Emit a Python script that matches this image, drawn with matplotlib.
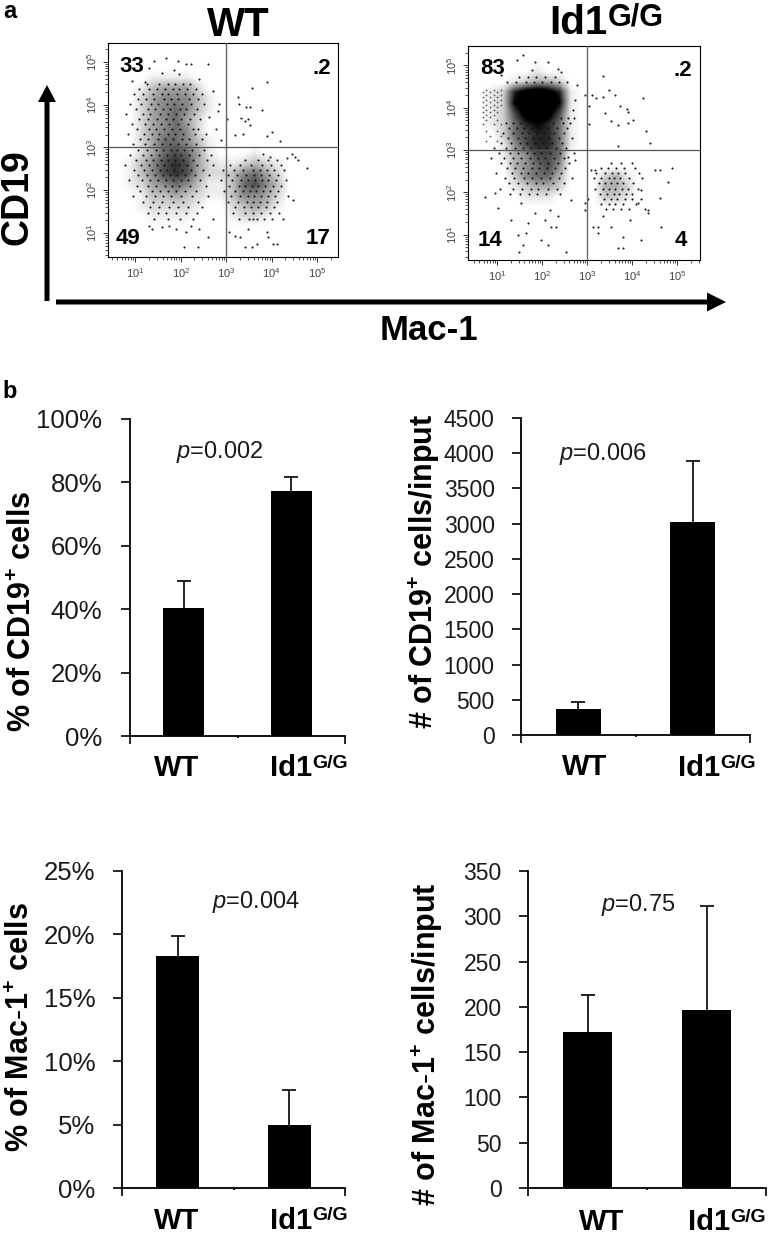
import matplotlib
matplotlib.use("Agg")
import matplotlib.pyplot as plt
from matplotlib.colors import PowerNorm
import numpy as np

W, H = 769, 1234
plt.rcParams["font.family"] = ["Liberation Sans", "DejaVu Sans"]
plt.rcParams["mathtext.fontset"] = "custom"
plt.rcParams["mathtext.rm"] = "Liberation Sans"
plt.rcParams["mathtext.it"] = "Liberation Sans:italic"
plt.rcParams["mathtext.bf"] = "Liberation Sans:bold"

# flow panels: estimated darkness of the cloud per 0.25 decade cell (top row = highest CD19)
wt_density = [
    [0]*20,
    [0]*20,
    [0]*20,
    [0,0,0,1,1,1,1,0,0,0,0,0,0,0,0,0,0,0,0,0],
    [0,0,1,3,4,4,4,2,0,0,0,0,0,0,0,0,0,0,0,0],
    [0,0,2,4,5,5,5,3,1,0,0,0,0,0,0,0,0,0,0,0],
    [0,0,2,4,5,6,5,3,1,0,0,0,0,0,0,0,0,0,0,0],
    [0,0,2,4,5,6,4,2,0,0,0,0,0,0,0,0,0,0,0,0],
    [0,0,2,4,5,6,5,2,0,0,0,0,0,0,0,0,0,0,0,0],
    [0,0,2,4,6,6,5,3,1,0,0,0,0,0,0,0,0,0,0,0],
    [0,0,2,4,6,7,6,4,1,0,0,0,1,0,0,0,0,0,0,0],
    [0,1,3,5,7,8,7,4,2,1,1,2,3,2,1,0,0,0,0,0],
    [0,1,3,5,7,8,7,4,2,2,3,5,6,4,2,0,0,0,0,0],
    [0,1,2,4,5,6,5,3,1,1,3,6,7,5,3,0,0,0,0,0],
    [0,0,1,3,3,4,3,2,1,1,3,5,5,4,2,0,0,0,0,0],
    [0,0,1,2,2,2,2,1,0,0,2,3,4,3,1,0,0,0,0,0],
    [0,0,0,1,1,1,1,0,0,0,1,2,2,1,0,0,0,0,0,0],
    [0]*20,
    [0]*20,
    [0]*20,
]
id1_density = [
    [0]*20,
    [0]*20,
    [0,0,0,0,0,1,0,0,0,0,0,0,0,0,0,0,0,0,0,0],
    [0,0,0,1,2,3,3,2,0,0,0,0,0,0,0,0,0,0,0,0],
    [0,1,2,7,9,10,9,7,1,0,0,0,0,0,0,0,0,0,0,0],
    [0,1,2,8,10,10,10,8,1,0,0,0,0,0,0,0,0,0,0,0],
    [0,1,2,6,9,10,9,6,1,0,0,0,0,0,0,0,0,0,0,0],
    [0,1,2,5,7,8,7,5,1,0,0,0,0,0,0,0,0,0,0,0],
    [0,0,2,5,6,7,7,5,1,0,0,0,0,0,0,0,0,0,0,0],
    [0,0,1,4,6,7,7,5,1,0,0,0,0,0,0,0,0,0,0,0],
    [0,0,1,3,4,6,6,5,0,0,0,0,0,0,0,0,0,0,0,0],
    [0,0,0,3,4,5,6,4,0,0,0,0,0,0,0,0,0,0,0,0],
    [0,0,0,2,4,5,5,3,0,0,0,2,3,1,0,0,0,0,0,0],
    [0,0,0,1,2,3,3,2,0,0,0,3,3,2,0,0,0,0,0,0],
    [0,0,0,0,1,1,1,0,0,0,0,2,2,1,0,0,0,0,0,0],
    [0]*20,
    [0]*20,
    [0]*20,
    [0]*20,
    [0]*20,
]

# single events, log10 units
wt_x = [3.89,3.56,3.26,3.28,3.44,3.52,3.78,3.02,3.33,3.48,3.41,3.53,3.19,3.36,3.89,4.00,4.19,
        1.41,1.67,1.93,1.30,1.59,1.85,2.22,2.59,2.11,1.96,1.22,0.93,2.41,
        2.70,2.85,2.81,2.63,2.78,2.56,2.89,
        1.37,1.59,1.74,1.30,2.07,2.37,2.41,2.22,2.59,2.70,2.11,1.89,
        3.19,3.30,3.41,3.56,3.67,3.89,4.04,4.11,3.93,3.07,3.48,3.59,4.26,4.48,4.78,4.52,4.44,4.59,3.81,3.96,4.33]
wt_y = [4.53,4.38,4.17,4.02,3.95,3.95,3.88,3.67,3.69,3.67,3.62,3.52,3.28,3.32,3.26,3.36,3.15,
        5.02,5.08,5.03,4.86,4.75,4.82,4.94,4.95,4.94,4.71,4.52,4.55,4.59,
        4.32,4.02,3.86,3.71,3.44,3.32,3.17,
        1.09,1.13,1.17,1.17,0.67,0.67,1.09,1.17,0.90,1.32,1.02,1.09,
        0.94,0.90,0.67,0.67,0.75,1.02,0.75,0.75,0.90,1.02,1.09,1.32,1.32,1.78,2.52,2.78,2.85,2.71,2.85,2.78,2.75]
id1_x = [3.35,3.10,3.20,3.35,3.47,3.61,4.24,3.03,3.72,3.87,3.90,3.39,3.53,3.68,3.90,4.01,4.30,4.39,3.67,3.03,
         1.46,1.64,1.57,1.48,2.13,2.53,1.98,1.68,1.31,1.01,0.72,0.94,2.20,2.31,2.05,2.35,2.16,1.53,1.83,2.94,2.94,2.64,2.72,2.57,
         1.57,1.43,1.83,2.13,1.76,2.42,1.09,2.35,2.76,2.72,2.94,2.68,
         3.09,3.16,4.50,4.61,4.87,4.79,4.61,4.35,4.63,4.20,3.79,3.68,3.79,3.24,3.13,3.35,3.53,4.35,3.94,3.01,4.20,4.13,3.24]
id1_y = [4.75,4.30,4.22,4.26,4.43,4.31,4.24,4.04,4.04,3.98,3.91,3.88,3.69,3.59,3.63,3.71,3.45,3.17,3.09,3.61,
         0.99,1.03,0.76,0.60,0.76,0.60,0.87,1.27,1.35,1.62,1.90,1.98,1.19,1.19,1.35,1.43,1.58,1.74,1.50,1.74,1.58,1.82,2.76,2.84,
         5.24,5.13,5.09,5.09,4.89,4.85,4.77,4.91,4.54,4.18,4.30,3.94,
         2.53,2.53,2.53,2.53,2.58,2.25,1.86,1.58,1.19,0.87,0.95,0.68,0.68,1.19,1.19,1.43,1.19,1.50,1.35,1.85,2.05,1.74,1.03]

# dots estimated inside the clouds, one row per CD19 level: (log10 CD19, [log10 Mac-1, ...])
wt_rows = [
    (4.48, [1.25,1.52,1.71,1.88,2.05,2.21]),
    (4.36, [1.08,1.31,1.47,1.66,1.83,1.97,2.14,2.33]),
    (4.24, [0.97,1.18,1.39,1.58,1.72,1.91,2.09,2.27,2.46]),
    (4.12, [1.05,1.24,1.42,1.63,1.79,1.95,2.18,2.38]),
    (4.01, [0.88,1.13,1.35,1.51,1.69,1.86,2.03,2.22,2.51]),
    (3.89, [1.02,1.27,1.44,1.61,1.77,1.98,2.12,2.35]),
    (3.77, [0.79,1.16,1.33,1.55,1.73,1.89,2.07,2.29]),
    (3.66, [1.09,1.29,1.48,1.68,1.84,2.01,2.21,2.43]),
    (3.54, [0.93,1.21,1.38,1.57,1.75,1.93,2.15]),
    (3.42, [1.04,1.31,1.46,1.64,1.81,1.99,2.26,2.39]),
    (3.31, [0.85,1.19,1.36,1.53,1.71,1.87,2.06,2.31]),
    (3.19, [1.11,1.28,1.49,1.66,1.82,2.02,2.18,2.47]),
    (3.08, [0.96,1.22,1.41,1.59,1.76,1.94,2.11,2.34]),
    (2.94, [1.07,1.26,1.45,1.62,1.78,1.91,2.08,2.24,2.52]),
    (2.82, [0.89,1.17,1.34,1.52,1.69,1.85,2.00,2.19,2.41,2.66]),
    (2.70, [1.01,1.23,1.39,1.56,1.72,1.88,2.04,2.27,2.58,3.42,3.71,3.93,4.12]),
    (2.59, [0.78,1.12,1.30,1.47,1.63,1.80,1.96,2.13,2.36,2.72,3.08,3.31,3.55,3.78,3.99,4.21]),
    (2.47, [0.98,1.20,1.37,1.54,1.70,1.86,2.03,2.22,2.49,2.92,3.17,3.38,3.59,3.74,3.89,4.06,4.27]),
    (2.35, [1.06,1.25,1.43,1.60,1.77,1.92,2.10,2.31,2.63,3.03,3.24,3.44,3.61,3.77,3.95,4.14]),
    (2.23, [0.87,1.15,1.33,1.51,1.67,1.83,2.01,2.17,2.42,2.88,3.12,3.33,3.49,3.63,3.79,3.91,4.09,4.31]),
    (2.11, [1.03,1.29,1.46,1.65,1.81,1.97,2.20,2.55,3.06,3.28,3.42,3.57,3.70,3.85,4.02,4.20]),
    (1.99, [1.10,1.36,1.55,1.73,1.90,2.09,2.33,2.96,3.19,3.36,3.52,3.66,3.81,3.97,4.13]),
    (1.86, [0.94,1.24,1.44,1.62,1.79,2.00,2.25,2.60,3.10,3.30,3.47,3.62,3.76,3.92,4.08,4.35]),
    (1.73, [1.18,1.40,1.58,1.84,2.06,2.39,3.04,3.25,3.45,3.60,3.74,3.90,4.11]),
    (1.60, [1.32,1.53,1.75,1.95,2.16,2.47,3.20,3.39,3.55,3.71,3.88,4.05]),
    (1.47, [1.27,1.49,1.68,1.89,2.12,2.35,3.14,3.41,3.58,3.77,3.96,4.17]),
    (1.33, [1.42,1.71,1.98,2.28,3.29,3.50,3.68,3.83,4.00]),
]
id1_rows = [
    (4.72, [1.48,1.69,1.87,2.06,2.28]),
    (4.60, [1.22,1.41,1.63,1.82,2.00,2.19,2.38,2.54]),
    (3.75, [2.41,2.58,2.71]),
    (3.64, [1.19,1.34,1.52,1.70,1.88,2.06,2.23,2.45,2.62]),
    (3.52, [1.27,1.43,1.60,1.77,1.95,2.12,2.33,2.55]),
    (3.40, [1.12,1.36,1.54,1.71,1.89,2.03,2.26,2.48]),
    (3.28, [1.24,1.45,1.62,1.80,1.97,2.15,2.37,2.66]),
    (3.16, [1.08,1.31,1.50,1.67,1.84,2.01,2.21,2.44]),
    (3.05, [0.92,1.20,1.39,1.57,1.74,1.92,2.09,2.30,2.52]),
    (2.93, [1.03,1.28,1.47,1.65,1.81,1.98,2.17,2.39,2.71]),
    (2.81, [0.86,1.15,1.35,1.53,1.72,1.90,2.07,2.25,2.48]),
    (2.69, [1.09,1.29,1.44,1.61,1.79,1.95,2.13,2.34,2.60,3.52,3.74,4.00]),
    (2.57, [1.22,1.40,1.58,1.76,1.93,2.11,2.29,2.50,3.30,3.46,3.63,3.81,4.06]),
    (2.45, [0.98,1.33,1.52,1.69,1.86,2.04,2.22,2.42,3.20,3.39,3.55,3.68,3.84,4.15]),
    (2.33, [1.18,1.38,1.60,1.78,1.96,2.16,2.37,2.65,3.14,3.31,3.47,3.60,3.72,3.93,4.22]),
    (2.21, [1.26,1.46,1.66,1.85,2.02,2.24,2.47,3.25,3.40,3.53,3.65,3.78,4.02]),
    (2.09, [1.06,1.35,1.55,1.74,1.91,2.12,2.33,3.18,3.35,3.49,3.62,3.77,3.90,4.12]),
    (1.97, [1.29,1.50,1.70,1.88,2.08,2.40,3.28,3.44,3.58,3.70,3.85,4.00]),
    (1.84, [3.38,3.52,3.66,3.83,3.98,4.20]),
    (1.72, [3.31,3.48,3.61,3.79,4.07]),
    (1.60, [3.42,3.56,3.74,3.92,4.28]),
]
# striped low Mac-1 channels of the Id1 plot
id1_stripes = [
    (4.42, [0.76,0.92,1.08]),
    (4.38, [0.68,0.84,1.00]),
    (4.30, [0.76,0.92,1.08]),
    (4.26, [0.68,0.84,1.00]),
    (4.18, [0.76,0.92,1.08]),
    (4.14, [0.68,0.84,1.00]),
    (4.06, [0.76,0.92,1.08]),
    (4.02, [0.68,0.84,1.00]),
    (3.94, [0.76,0.92]),
    (3.90, [0.68,0.84,1.00]),
    (3.82, [0.76,0.92]),
    (3.78, [0.68,0.84]),
    (3.70, [0.76,1.00]),
    (3.62, [0.68,0.92,1.08]),
    (3.46, [0.76,1.00]),
    (3.34, [0.84,1.08]),
    (3.22, [0.76,1.00]),
]

wt_quadrants = ["33", ".2", "49", "17"]
id1_quadrants = ["83", ".2", "14", "4"]
decades = [1, 2, 3, 4, 5]

# bar panels
groups = ["WT", "Id1"]
pct_cd19 = [40.4, 77.3]
pct_cd19_err = [8.4, 4.4]
num_cd19 = [369, 3025]
num_cd19_err = [99, 861]
pct_mac1 = [18.3, 5.0]
pct_mac1_err = [1.6, 2.75]
num_mac1 = [171.7, 197]
num_mac1_err = [41.2, 114.4]
pct_ticks_cd19 = [0, 20, 40, 60, 80, 100]
ticks_num_cd19 = [0, 500, 1000, 1500, 2000, 2500, 3000, 3500, 4000, 4500]
pct_ticks_mac1 = [0, 5, 10, 15, 20, 25]
ticks_num_mac1 = [0, 50, 100, 150, 200, 250, 300, 350]


def px_axes(x0, y0, x1, y1):
    return fig.add_axes([x0/W, 1-y1/H, (x1-x0)/W, (y1-y0)/H])


def flow(box, xlim, ylim, density, xs, ys, rows, vmax, labels, label_pos):
    ax = px_axes(*box)
    ax.imshow(np.array(density), extent=(0.5, 5.5, 0.5, 5.5), cmap="gray_r",
              norm=PowerNorm(1.2, vmin=0, vmax=vmax),
              interpolation="bilinear", aspect="auto", zorder=1)
    ax.scatter(xs, ys, s=2.4, color="#222222", linewidths=0, zorder=2)
    for y, row in rows:
        ax.scatter(row, [y]*len(row), s=2.2, color="#111111", linewidths=0, zorder=2)
    ax.axvline(3, color="#666666", lw=1.0, zorder=3)
    ax.axhline(3, color="#555555", lw=0.9, zorder=3)
    ax.set_xlim(*xlim)
    ax.set_ylim(*ylim)
    minor = [np.log10(m)+d for d in [0, 1, 2, 3, 4, 5] for m in range(2, 10)]
    ax.set_xticks([m for m in minor if xlim[0] < m < xlim[1]], minor=True)
    ax.set_yticks([m for m in minor if ylim[0] < m < ylim[1]], minor=True)
    ax.set_xticks(decades)
    ax.set_yticks(decades)
    ax.set_xticklabels(["$10^{%d}$" % d for d in decades], fontsize=8, color="#444444")
    ax.set_yticklabels(["$10^{%d}$" % d for d in decades], fontsize=8, color="#444444", rotation=90, va="center")
    ax.tick_params(which="major", length=3.5, width=0.7, pad=3, color="#333333")
    ax.tick_params(which="minor", length=2, width=0.6, color="#333333")
    for s in ax.spines.values():
        s.set_linewidth(0.8)
        s.set_linestyle((0, (1.5, 1)))
    for t, (px, py) in zip(labels, label_pos):
        page.text(px, py, t, fontsize=16, fontweight="bold", ha="center", va="center", zorder=5)
    ax.patch.set_alpha(0)
    return ax


def bars(box, vals, errs, ticks, ticklabels, bar_w, fs, pad):
    ax = px_axes(*box)
    pos = [0.5, 1.5]
    ax.bar(pos, vals, width=bar_w, color="black", zorder=2)
    eb = ax.errorbar(pos, vals, yerr=[[0, 0], errs], fmt="none", ecolor="black", elinewidth=1.2,
                     capsize=4.7, capthick=1.2, zorder=1)
    eb[1][0].set_visible(False)
    ax.set_xlim(0, 2)
    ax.set_ylim(ticks[0], ticks[-1])
    ax.set_xticks([0, 1, 2])
    ax.set_xticklabels([])
    ax.set_yticks(ticks)
    ax.set_yticklabels(ticklabels, fontsize=fs, color="#1a1a1a")
    ax.tick_params(axis="y", length=6.5, width=1.2, pad=pad)
    ax.tick_params(axis="x", length=5.5, width=1.2)
    ax.xaxis.get_major_ticks()[1].tick1line.set_markersize(1.5)
    ax.spines["top"].set_visible(False)
    ax.spines["right"].set_visible(False)
    ax.spines["left"].set_linewidth(1.3)
    ax.spines["bottom"].set_linewidth(1.3)
    ax.patch.set_alpha(0)
    return ax


def id1_label(x_split, y, size, sup_size, sup_dy):
    page.text(x_split, y, "Id1", fontsize=size, fontweight="bold", ha="right", va="center")
    page.text(x_split, y-sup_dy, "G/G", fontsize=sup_size, fontweight="bold", ha="left", va="center")


fig = plt.figure(figsize=(W/100, H/100), dpi=100)

# overlay in pixel coordinates for the figure's lettering and arrows
page = fig.add_axes([0, 0, 1, 1], zorder=10)
page.set_xlim(0, W)
page.set_ylim(H, 0)
page.axis("off")

flow((108, 43, 338, 257), (0.4, 5.46), (0.44, 5.44), wt_density, wt_x, wt_y, wt_rows, 9.5, wt_quadrants,
     [(132, 66), (322, 68), (128, 239), (318, 239)])
ax_id1 = flow((468, 46, 700, 260), (0.35, 5.5), (0.4, 5.46), id1_density, id1_x, id1_y, id1_rows, 8, id1_quadrants,
              [(493, 68), (683, 71), (490, 241), (681, 241)])
for y, row in id1_stripes:
    ax_id1.scatter(row, [y]*len(row), s=1.6, color="#555555", linewidths=0, zorder=2)

page.arrow(47, 301, 0, -216, width=5, head_width=18, head_length=17, length_includes_head=True, color="black", lw=0)
page.arrow(56, 302, 670, 0, width=5, head_width=19, head_length=19, length_includes_head=True, color="black", lw=0)

page.text(10, 11, "a", fontsize=17, fontweight="bold", ha="center", va="center")
page.text(10, 391, "b", fontsize=17, fontweight="bold", ha="center", va="center")
page.text(238, 25, "WT", fontsize=29, fontweight="bold", ha="center", va="center")
id1_label(608, 23, 29, 22, 6)
page.text(18, 197, "CD19", fontsize=27, fontweight="bold", rotation=90, ha="center", va="center")
page.text(429, 331, "Mac-1", fontsize=25, fontweight="bold", ha="center", va="center")

bars((130, 419, 345, 736), pct_cd19, pct_cd19_err, pct_ticks_cd19, ["%d%%" % t for t in pct_ticks_cd19], 0.386, 18.5, 13.5)
bars((521, 418, 750, 735), num_cd19, num_cd19_err, ticks_num_cd19, [str(t) for t in ticks_num_cd19], 0.39, 16.5, 12.5)
bars((122, 871, 345, 1188), pct_mac1, pct_mac1_err, pct_ticks_mac1, ["%d%%" % t for t in pct_ticks_mac1], 0.386, 18.5, 12.5)
bars((528, 871, 766, 1188), num_mac1, num_mac1_err, ticks_num_mac1, [str(t) for t in ticks_num_mac1], 0.41, 16.5, 12.5)

ylabels = [(23, 611, r"$\mathbf{\%\ of\ CD19^{+}\ cells}$"),
           (424, 571, r"$\mathbf{\#\ of\ CD19^{+}\ cells/input}$"),
           (21, 1027, r"$\mathbf{\%\ of\ Mac\text{-}1^{+}\ cells}$"),
           (427, 1044, r"$\mathbf{\#\ of\ Mac\text{-}1^{+}\ cells/input}$")]
for x, y, t in ylabels:
    page.text(x, y, t, fontsize=22, rotation=90, ha="center", va="center")

pvals = [(220, 452, "0.002"), (603, 454, "0.006"), (256, 902, "0.004"), (638, 905, "0.75")]
for x, y, t in pvals:
    page.text(x, y, "$\\mathit{p}$=" + t, fontsize=17, ha="center", va="center", color="#1a1a1a")

for x, y in [(177, 768), (585, 767), (177, 1221), (602, 1222)]:
    page.text(x, y, groups[0], fontsize=21, fontweight="bold", ha="center", va="center")
for x, y in [(312, 768), (720, 768), (312, 1221), (730, 1222)]:
    id1_label(x, y, 21, 14, 5)

fig.savefig("out.png", dpi=100)
